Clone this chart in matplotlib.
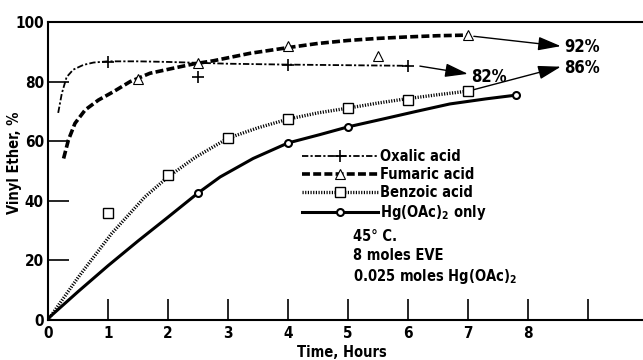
import matplotlib
matplotlib.use("Agg")
import matplotlib.pyplot as plt
from matplotlib.lines import Line2D

plt.rcParams['font.family'] = ['DejaVu Sans Condensed', 'DejaVu Sans']
plt.rcParams['font.stretch'] = 'condensed'
plt.rcParams['font.weight'] = 'bold'
plt.rcParams['axes.labelweight'] = 'bold'
plt.rcParams['mathtext.default'] = 'regular'

# curves (hours, % vinyl ether)
ox_cx = [0.17, 0.23, 0.31, 0.42, 0.59, 0.76, 1.0, 1.5, 2.0, 2.5, 3.0, 4.0, 5.0, 6.0]
ox_cy = [69.5, 76.0, 81.5, 84.0, 85.6, 86.4, 86.8, 86.8, 86.6, 86.3, 86.0, 85.7, 85.5, 85.3]
fu_cx = [0.26, 0.34, 0.45, 0.62, 0.84, 1.09, 1.37, 1.7, 2.09, 2.42, 2.76, 3.37, 4.0, 4.5, 5.0, 5.5, 6.0, 6.5, 7.0]
fu_cy = [54.2, 60.4, 66.0, 70.5, 73.8, 76.6, 80.0, 82.8, 84.5, 85.9, 87.0, 89.5, 91.4, 92.8, 93.8, 94.5, 95.0, 95.4, 95.6]
bz_cx = [0, 0.51, 1.06, 1.62, 2.0, 2.45, 3.0, 3.5, 4.0, 4.5, 5.0, 5.5, 6.0, 6.5, 7.0]
bz_cy = [0, 14.5, 29.0, 41.4, 48.0, 54.5, 61.0, 64.5, 67.4, 69.5, 71.1, 72.8, 74.3, 75.6, 76.8]
hg_cx = [0, 0.5, 1.0, 1.5, 2.0, 2.5, 2.87, 3.42, 4.0, 4.53, 5.0, 5.64, 6.14, 6.7, 7.3, 7.82]
hg_cy = [0.5, 9.5, 18.2, 26.5, 34.5, 42.6, 48.0, 54.2, 59.4, 62.2, 64.8, 67.7, 70.0, 72.5, 74.2, 75.5]

# measured points
ox_mx = [1, 2.5, 4, 6]
ox_my = [86.6, 81.5, 85.6, 85.2]
fu_mx = [1.5, 2.5, 4, 5.5, 7]
fu_my = [81.0, 86.3, 91.8, 88.6, 95.5]
bz_mx = [1, 2, 3, 4, 5, 6, 7]
bz_my = [36.0, 48.5, 61.2, 67.4, 71.1, 73.8, 76.8]
hg_mx = [2.5, 4, 5, 7.8]
hg_my = [42.6, 59.4, 64.8, 75.5]

labels = ['Oxalic acid', 'Fumaric acid', 'Benzoic acid', r'Hg(OAc)$_2$ only']
xticks = list(range(10))
xticklabels = ['0', '1', '2', '3', '4', '5', '6', '7', '8', '']
yticks = [0, 20, 40, 60, 80, 100]

styles = [
    dict(lw=1.3, dashes=(3.5, 1.2, 1.2, 1.2), marker='+', ms=9, mew=1.2),
    dict(lw=2.6, dashes=(2.2, 0.9), marker='^', ms=7, mew=0.8),
    dict(lw=2.4, dashes=(0.35, 0.45), marker='s', ms=7, mew=1.0),
    dict(lw=2.2, ls='-', marker='o', ms=5, mew=1.5),
]

fig = plt.figure(figsize=(6.43, 3.6), dpi=100)
ax = fig.add_axes([48/643, 40/360, 595/643, 298/360])

curves = [(ox_cx, ox_cy), (fu_cx, fu_cy), (bz_cx, bz_cy), (hg_cx, hg_cy)]
points = [(ox_mx, ox_my), (fu_mx, fu_my), (bz_mx, bz_my), (hg_mx, hg_my)]
handles = []
for (cx, cy), (mx, my), st in zip(curves, points, styles):
    line_kw = {k: v for k, v in st.items() if k in ('lw', 'dashes', 'ls')}
    ax.plot(cx, cy, color='black', solid_capstyle='butt', **line_kw)
    ax.plot(mx, my, ls='none', marker=st['marker'], ms=st['ms'], mew=st['mew'],
            mfc='white', mec='black', zorder=3)
    handles.append(Line2D([], [], color='black', mfc='white', mec='black', **st))

ax.legend(handles, labels, loc='upper left', bbox_to_anchor=(0.427, 0.575),
          frameon=False, borderpad=0, borderaxespad=0, handlelength=5.2,
          handletextpad=0.15, labelspacing=0.22, numpoints=1, fontsize=10.5)

ax.text(5.08, 30.5, '45\u00b0 C.\n8 moles EVE\n0.025 moles Hg(OAc)$_2$',
        fontsize=10.5, va='top', ha='left', linespacing=1.3)

# final-yield arrows
arrow = dict(arrowstyle='-|>,head_length=1.0,head_width=0.3', color='black',
             lw=1.0, mutation_scale=14, shrinkA=0, shrinkB=0)
ax.annotate('', xy=(8.55, 91.9), xytext=(7.1, 95.2), arrowprops=arrow)
ax.annotate('', xy=(7.0, 82.6), xytext=(6.2, 85.2), arrowprops=arrow)
ax.annotate('', xy=(8.55, 85.0), xytext=(7.1, 77.3), arrowprops=arrow)
ax.text(8.6, 91.5, '92%', fontsize=12, va='center', ha='left')
ax.text(7.05, 81.5, '82%', fontsize=12, va='center', ha='left')
ax.text(8.6, 84.4, '86%', fontsize=12, va='center', ha='left')

ax.set_xlim(0, 9.92)
ax.set_ylim(0, 100)
ax.set_xticks(xticks)
ax.set_xticklabels(xticklabels)
ax.set_yticks(yticks)
ax.tick_params(direction='in', length=15, width=1.2, labelsize=11, pad=3)
ax.tick_params(axis='x', pad=4)
ax.spines['right'].set_visible(False)
for s in ('top', 'bottom', 'left'):
    ax.spines[s].set_linewidth(1.5)

ax.set_xlabel('Time, Hours', fontsize=10.5)
ax.xaxis.set_label_coords(0.494, -0.085)
ax.set_ylabel('Vinyl Ether, %', fontsize=10.5, va='center')
ax.yaxis.set_label_coords(-0.057, 0.527)

fig.savefig('out.png', dpi=100)
